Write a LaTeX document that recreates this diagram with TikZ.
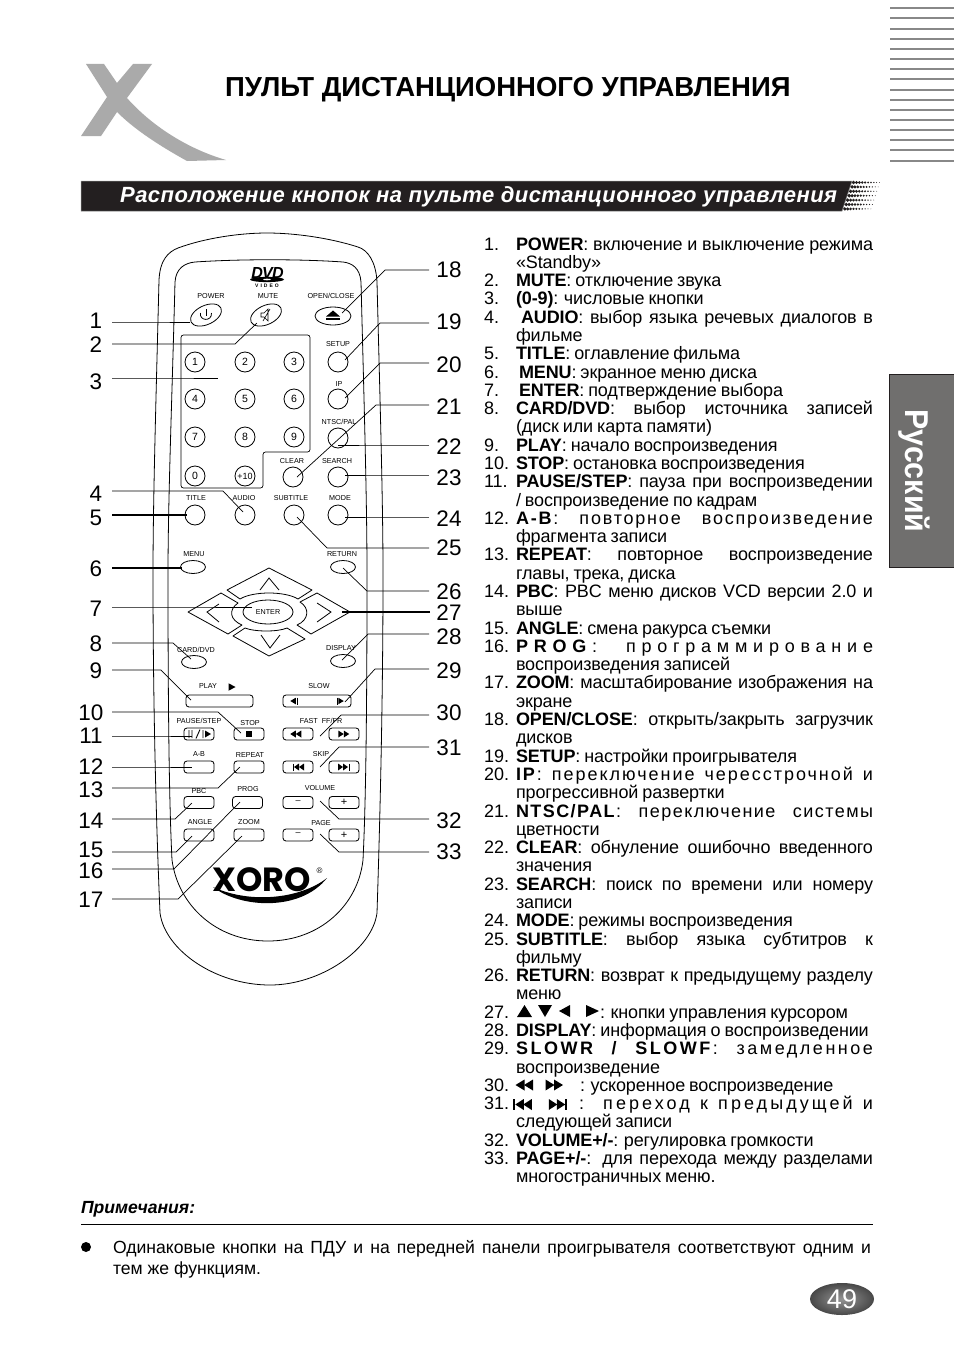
\documentclass[tikz,border=0pt]{standalone}
\usepackage{fontspec}
\usetikzlibrary{shapes.geometric,calc}
\setmainfont{Liberation Sans}
\newfontfamily\wa[LetterSpace=8]{Liberation Sans}
\newfontfamily\wb[LetterSpace=10]{Liberation Sans}
\newfontfamily\wip[LetterSpace=11]{Liberation Sans}
\newfontfamily\wsp[LetterSpace=14]{Liberation Sans}
\newfontfamily\wse[LetterSpace=17]{Liberation Sans}
\newfontfamily\wc[LetterSpace=32]{Liberation Sans}
\newfontfamily\tg[LetterSpace=-0.7]{Liberation Sans}
\newfontfamily\xorofont{Poppins}
\definecolor{logogray}{HTML}{AAAAAA}
\definecolor{stripe}{HTML}{888888}
\definecolor{barblack}{HTML}{231F20}
\definecolor{tabgray}{HTML}{706F6E}
\newcommand\fs[1]{\fontsize{#1}{#1}\selectfont}
\tikzset{
 txt/.style={anchor=base west,inner sep=0pt,outer sep=0pt,font=\fs{18}},
 numl/.style={inner sep=0pt,font=\fs{22.5}},
 lead/.style={draw=black,line width=.7pt},
 leadb/.style={draw=black,line width=1.1pt},
 rem/.style={draw=black,line width=.8pt},
 keyc/.style={draw=black,line width=.8pt,circle,minimum size=20pt,inner sep=0pt,font=\fs{10.5}},
 keye/.style={draw=black,line width=.8pt,ellipse,inner sep=0pt},
 keyr/.style={draw=black,line width=.85pt,rounded corners=3pt,inner sep=0pt,minimum width=30pt,minimum height=12pt,font=\fs{9}},
 lab/.style={inner sep=0pt,font=\fs{7.2}},
 ico/.style={fill=black},
 linew/.style={line width=.8pt,draw=black},
}
\newcommand\LY[1]{{250+18.29*#1}}
\newcommand\Nm[2]{\node[txt] (m#1) at (484,\LY{#1}) {#2.};}
\newcommand\LJ[2]{\node[txt] (t#1) at (516,\LY{#1}) {\hbox to 357pt{\tg\spaceskip=.22em plus 1fil minus .1em\relax #2}};}
\newcommand\LL[2]{\node[txt] (t#1) at (516,\LY{#1}) {\tg\spaceskip=.22em\relax #2};}
\newcommand\LX[3]{\node[txt] (t#1) at (#2,\LY{#1}) {\tg\spaceskip=.22em\relax #3};}
\newcommand\LJX[4]{\node[txt] (t#1) at (#2,\LY{#1}) {\hbox to #3pt{\tg\spaceskip=.22em plus 1fil minus .1em\relax #4}};}
\newcommand\Ldr[5][lead]{\coordinate (s#2) at (#3);\coordinate (k#2) at (#4);\coordinate (e#2) at (#5);\draw[#1] (s#2) -- (k#2) -- (e#2);}
\newcommand\tri[5]{\fill ({#1-#3*#4/2},{#2-#5/2}) -- ({#1-#3*#4/2},{#2+#5/2}) -- ({#1+#3*#4/2},#2) -- cycle;}
\begin{document}
\begin{tikzpicture}[x=1pt,y=-1pt]
\useasboundingbox (0,0) rectangle (954,1354);
\fill[white] (0,0) rectangle (954,1354);
% header logo
\fill[logogray] (86,64) -- (104,64) -- (117,83) -- (133,64) -- (152,64) -- (127,98)
  .. controls (150,124) and (185,148) .. (226,160) -- (187,161)
  .. controls (160,146) and (135,130) .. (117,112) -- (101,136) -- (81,136) -- (107,97) -- cycle;
\node[anchor=base west,inner sep=0pt,font=\fs{27.5}\bfseries] (title) at (225,96) {ПУЛЬТ ДИСТАНЦИОННОГО УПРАВЛЕНИЯ};
% stripes
\foreach \yy/\tt in {8/2.6,18/2.6,29/2,39/2,49/2,59/2,69/2,79/2.6,90/2,100/2,110/2,120/2,130/2,140/2.6,150/2.6,161/2}
  \fill[stripe] (890,\yy-\tt/2) rectangle (954,\yy+\tt/2);
% bar
\fill[barblack,draw=stripe,line width=.5pt] (81,181) -- (852,181) -- (842,211) -- (81,211) -- cycle;
\node[anchor=base west,inner sep=0pt,text=white,font=\fs{22}\bfseries\itshape] (subtitle) at (120,202) {\addfontfeature{LetterSpace=2}Расположение кнопок на пульте дистанционного управления};
\foreach \j in {0,...,6}{
 \foreach \i in {0,...,9}{
  \pgfmathsetmacro\yy{182.5+4.4*\j}
  \pgfmathsetmacro\xx{854+2.9*\i-(\yy-181)*0.33}
  \pgfmathsetmacro\rr{1.9-.16*\i-abs(\j-3)*.03}
  \fill[barblack] (\xx,\yy) circle (\rr);
 }}
% side tab
\fill[tabgray] (889,374) rectangle (954,567);
\draw[barblack,line width=.7pt] (954,374) -- (889,374) -- (889,567) -- (954,567);
\node[rotate=-90,anchor=base,inner sep=0pt,text=white,font=\fs{33}\bfseries] (tab) at (905,471) {\scalebox{.92}[1]{Русский}};
% remote outline
\draw[rem] (159,280) .. controls (160,260) and (168,252) .. (178,248) .. controls (205,238) and (240,233) .. (267,233) .. controls (295,233) and (330,238) .. (358,247) .. controls (368,250) and (376,262) .. (377,282)
  .. controls (380,400) and (383,500) .. (383,575) .. controls (383,700) and (380,820) .. (377,913)
  .. controls (372,950) and (320,985) .. (270,985) .. controls (215,985) and (165,950) .. (160,913)
  .. controls (156,820) and (153,700) .. (153,575) .. controls (153,500) and (156,400) .. (159,280) -- cycle;
\draw[rem] (175,282) .. controls (176,268) and (185,263) .. (195,262) .. controls (240,259) and (300,259) .. (343,262) .. controls (352,263) and (360,268) .. (361,282)
  .. controls (364,400) and (367,500) .. (367,575) .. controls (367,700) and (366,800) .. (363,860)
  .. controls (358,905) and (320,941) .. (268,941) .. controls (216,941) and (178,905) .. (172,860)
  .. controls (169,800) and (168,700) .. (168,575) .. controls (168,500) and (172,400) .. (175,282) -- cycle;
% DVD logo
\node[inner sep=0pt,font=\fs{16}\bfseries\itshape] (dvd) at (267.5,272.5) {\addfontfeature{LetterSpace=-4}DVD};
\fill (267,279.5) ellipse (17 and 2.6);
\fill[white] (267,279.5) ellipse (4 and .8);
\node[inner sep=0pt,font=\fs{5}\bfseries] (video) at (267,285.5) {\addfontfeature{LetterSpace=40}VIDEO};
% top keys
\node[keye,rotate=25,minimum width=33pt,minimum height=19pt] (power) at (206,315) {};
\draw[line width=.8pt] (200.5,313) .. controls (199,321) and (212,322) .. (211.5,313);
\draw[line width=.8pt] (206,309) -- (206,316);
\node[lab] (lpower) at (211,296) {POWER};
\node[keye,rotate=25,minimum width=33pt,minimum height=19pt] (mute) at (266,315) {};
\draw[line width=.6pt] (261,313) -- (264,313) -- (268,309) -- (268,321) -- (264,317) -- (261,317) -- cycle (263,321) -- (270,309);
\node[lab] (lmute) at (268,296) {MUTE};
\node[keye,minimum width=36pt,minimum height=18pt] (open) at (333,316) {};
\fill (326,316.5) -- (333,310.5) -- (340,316.5) -- cycle;
\fill (326,318) rectangle (340,320);
\node[lab] (lopen) at (331,296) {OPEN/CLOSE};
% numpad panel
\draw[line width=.7pt,rounded corners=2.5pt] (181,335) -- (310,335) -- (310,452) -- (263,452) -- (263,488) -- (181,488) -- cycle;
\node[keyc] (k1) at (195,362) {1};\node[keyc] (k2) at (245,362) {2};\node[keyc] (k3) at (294,362) {3};
\node[keyc] (k4) at (195,399) {4};\node[keyc] (k5) at (245,399) {5};\node[keyc] (k6) at (294,399) {6};
\node[keyc] (k7) at (195,437) {7};\node[keyc] (k8) at (245,437) {8};\node[keyc] (k9) at (294,437) {9};
\node[keyc] (k0) at (195,476) {0};\node[keyc,font=\fs{9}] (k10) at (245,476) {+10};
\node[keyc] (setup) at (338,362) {};\node[lab] (lsetup) at (338,344) {SETUP};
\node[keyc] (ip) at (338,399) {};\node[lab] (lip) at (339,384) {IP};
\node[keyc] (ntsc) at (338,438) {};\node[lab] (lntsc) at (339,422) {NTSC/PAL};
\node[keyc] (search) at (338,477) {};\node[lab] (lsearch) at (337,461) {SEARCH};
\node[keyc] (clear) at (293,477) {};\node[lab] (lclear) at (292,461) {CLEAR};
\node[keyc] (titlek) at (195,515) {};\node[lab] (ltitle) at (196,498) {TITLE};
\node[keyc] (audio) at (245,515) {};\node[lab] (laudio) at (244,498) {AUDIO};
\node[keyc] (subt) at (294,515) {};\node[lab] (lsubt) at (291,498) {SUBTITLE};
\node[keyc] (mode) at (338,515) {};\node[lab] (lmode) at (340,498) {MODE};
\node[keye,minimum width=25pt,minimum height=13pt] (menu) at (193,567) {};\node[lab] (lmenu) at (194,554) {MENU};
\node[keye,minimum width=25pt,minimum height=13pt] (return) at (343,567) {};\node[lab] (lreturn) at (342,554) {RETURN};
% navigation pad
\draw[rem,line join=round] (269,568) -- (312,590) -- (298,599) .. controls (285,591) and (253,591) .. (240,599) -- (227,590) -- cycle;
\draw[linew] (260,590) -- (269,578) -- (279,590);
\draw[rem,line join=round] (221,593) -- (238,603) .. controls (228,610) and (230,620) .. (242,625) -- (228,634) -- (188,612) -- cycle;
\draw[linew] (219,604) -- (207,612) -- (219,622);
\draw[rem,line join=round] (317,593) -- (350,612) -- (311,634) -- (297,625) .. controls (309,620) and (310,608) .. (300,602) -- cycle;
\draw[linew] (317,603) -- (331,612) -- (317,622);
\draw[rem,line join=round] (233,636) -- (245,628) .. controls (255,632) and (278,632) .. (287,628) -- (305,639) -- (269,656) -- cycle;
\draw[linew] (261,635) -- (270,648) -- (280,635);
\node[keye,minimum width=50pt,minimum height=24pt,font=\fs{7.2}] (enter) at (268,612) {ENTER};
\node[keye,minimum width=25pt,minimum height=13pt] (card) at (194,662) {};\node[lab] (lcard) at (196,650) {CARD/DVD};
\node[keye,minimum width=25pt,minimum height=13pt] (display) at (343,661) {};\node[lab] (ldisplay) at (341,648) {DISPLAY};
% wide keys
\node[keyr,minimum width=67pt] (play) at (219.5,701) {};\node[lab] (lplay) at (208,686) {PLAY};
\tri{232}{687}{1}{7}{7.5}
\node[keyr,minimum width=68pt] (slow) at (317,701) {};\node[lab] (lslow) at (319,686) {SLOW};
\tri{293}{701}{-1}{5.5}{6.5}\draw[line width=.8pt] (297,697.5) -- (297,704.5);
\tri{341}{701}{1}{5.5}{6.5}\draw[line width=.8pt] (337,697.5) -- (337,704.5);
% row 1
\node[keyr] (pause) at (199,734) {};\node[lab] (lpause) at (199,721) {PAUSE/STEP};
\draw[line width=.9pt] (189,730) -- (189,738) (192,730) -- (192,738) (196,738.5) -- (200,729.5) (203,730) -- (203,738);
\tri{208}{734}{1}{6}{7}
\node[keyr] (stop) at (249,734) {};\node[lab] (lstop) at (250,723) {STOP};\fill (246,731) rectangle (252,737);
\node[keyr] (rew) at (298,734) {};\node[keyr] (ff) at (344,734) {};\node[lab] (lfast) at (321,721) {FAST\ \ FF/FR};
\tri{293}{734}{-1}{5.5}{7}\tri{298.5}{734}{-1}{5.5}{7}
\tri{341}{734}{1}{5.5}{7}\tri{346.5}{734}{1}{5.5}{7}
% row 2
\node[keyr] (ab) at (199,767) {};\node[lab] (lab1) at (199,754) {A-B};
\node[keyr] (repeat) at (249,767) {};\node[lab] (lrepeat) at (250,755) {REPEAT};
\node[keyr] (prev) at (298,767) {};\node[keyr] (next) at (344,767) {};\node[lab] (lskip) at (321,754) {SKIP};
\draw[line width=1pt] (293,763.5) -- (293,770.5) (349,763.5) -- (349,770.5);
\tri{296.5}{767}{-1}{5}{7}\tri{301.5}{767}{-1}{5}{7}
\tri{340.5}{767}{1}{5}{7}\tri{345.5}{767}{1}{5}{7}
% row 3
\node[keyr] (pbc) at (199,802.5) {};\node[lab] (lpbc) at (199,791) {PBC};
\node[keyr] (prog) at (247.5,802.5) {};\node[lab] (lprog) at (248,789) {PROG};
\node[keyr] (vminus) at (298,802.5) {\raisebox{1pt}{–}};\node[keyr,font=\fs{11}] (vplus) at (344,802.5) {+};\node[lab] (lvol) at (320,788) {VOLUME};
% row 4
\node[keyr] (anglek) at (199,835) {};\node[lab] (langle) at (200,822) {ANGLE};
\node[keyr] (zoomk) at (249,835) {};\node[lab] (lzoom) at (249,822) {ZOOM};
\node[keyr] (pminus) at (298,835) {\raisebox{1pt}{–}};\node[keyr,font=\fs{11}] (pplus) at (344,835) {+};\node[lab] (lpage) at (321,823) {PAGE};
% XORO
\node[anchor=base west,inner sep=0pt,font=\fs{33.5}\xorofont\bfseries] (xoro) at (212,891) {XORO};
\fill (213,887) .. controls (240,908) and (300,912) .. (327,878) .. controls (300,899) and (250,904) .. (213,887) -- cycle;
\node[inner sep=0pt,font=\fs{8}] (reg) at (319.5,871) {®};
% numbers
\foreach \nn/\xx/\yy in {1/96/321,2/96/345,3/96/382,4/96/494,5/96/518,6/96/569,7/96/609,8/96/644,9/96/671,10/91/713,11/91/736,12/91/767,13/91/790,14/91/821,15/91/850,16/91/871,17/91/900,18/449/270,19/449/322,20/449/365,21/449/407,22/449/447,23/449/478,24/449/519,25/449/548,26/449/592,27/449/613,28/449/637,29/449/671,30/449/713,31/449/748,32/449/821,33/449/852}
  \node[numl] (n\nn) at (\xx,\yy) {\nn};
% leaders left
\Ldr{1}{112,322}{150,322}{190,322}
\Ldr{2}{112,344}{235,344}{257,323}
\Ldr{3}{112,378}{170,378}{218,378}
\Ldr{4}{112,491}{223,491}{243,512}
\Ldr[leadb]{5}{112,515}{150,515}{187,515}
\Ldr[leadb]{6}{112,568}{150,568}{182,568}
\Ldr{7}{112,607}{180,607}{252,607}
\Ldr{8}{112,643}{173,643}{191,659}
\Ldr{9}{112,670}{161,670}{191,700}
\Ldr{10}{112,712}{218,712}{241,733}
\Ldr{11}{112,736}{150,736}{192,736}
\Ldr{12}{112,767}{150,767}{192,767}
\Ldr{13}{112,788}{218,788}{240,767}
\Ldr{14}{112,819}{175,819}{192,803}
\Ldr{15}{112,852}{176,852}{192,836}
\Ldr{16}{112,869}{174,869}{240,802}
\Ldr{17}{112,899}{178,899}{242,836}
% leaders right
\Ldr{18}{429,270}{385,270}{342,313}
\Ldr{19}{429,323}{380,323}{345,360}
\Ldr{20}{429,363}{380,363}{345,398}
\Ldr{21}{429,405}{376,405}{297,477}
\Ldr{22}{429,445}{380,445}{338,445}
\Ldr{23}{429,475}{385,475}{345,475}
\Ldr{24}{429,517}{385,517}{345,517}
\Ldr{25}{429,548}{327,548}{297,517}
\Ldr{26}{429,591}{367,591}{343,568}
\Ldr[leadb]{27}{430,612}{390,612}{342,612}
\Ldr{28}{429,634}{368,634}{342,660}
\Ldr{29}{429,669}{375,669}{345,702}
\Ldr{30}{429,715}{341,715}{320,736}
\Ldr{31}{429,747}{339,747}{320,767}
\Ldr{32}{429,819}{339,819}{320,801}
\Ldr{33}{429,852}{339,852}{320,834}
% text
\Nm{0}{1}\LJ{0}{\textbf{POWER}: включение и выключение режима}
\LL{1}{«Standby»}
\Nm{2}{2}\LL{2}{\textbf{MUTE}: отключение звука}
\Nm{3}{3}\LL{3}{\textbf{(0-9)}: числовые кнопки}
\Nm{4}{4}\LJX{4}{521}{352}{\textbf{AUDIO}: выбор языка речевых диалогов в}
\LL{5}{фильме}
\Nm{6}{5}\LL{6}{\textbf{TITLE}: оглавление фильма}
\Nm{7}{6}\LX{7}{519}{\textbf{MENU}: экранное меню диска}
\Nm{8}{7}\LX{8}{519}{\textbf{ENTER}: подтверждение выбора}
\Nm{9}{8}\LJ{9}{\textbf{CARD/DVD}: выбор источника записей}
\LL{10}{(диск или карта памяти)}
\Nm{11}{9}\LL{11}{\textbf{PLAY}: начало воспроизведения}
\node[txt] (m12) at (484,\LY{12}) {10.};\LL{12}{\textbf{STOP}: остановка воспроизведения}
\node[txt] (m13) at (484,\LY{13}) {11.};\LJ{13}{\textbf{PAUSE/STEP}: пауза при воспроизведении}
\LL{14}{/ воспроизведение по кадрам}
\node[txt] (m15) at (484,\LY{15}) {12.};\LJ{15}{\wb\textbf{A-B}: повторное воспроизведение}
\LL{16}{фрагмента записи}
\node[txt] (m17) at (484,\LY{17}) {13.};\LJ{17}{\textbf{REPEAT}: повторное воспроизведение}
\LL{18}{главы, трека, диска}
\node[txt] (m19) at (484,\LY{19}) {14.};\LJ{19}{\textbf{PBC}: PBC меню дисков VCD версии 2.0 и}
\LL{20}{выше}
\node[txt] (m21) at (484,\LY{21}) {15.};\LL{21}{\textbf{ANGLE}: смена ракурса съемки}
\node[txt] (m22) at (484,\LY{22}) {16.};\LJ{22}{\wc\textbf{PROG}: программирование}
\LL{23}{воспроизведения записей}
\node[txt] (m24) at (484,\LY{24}) {17.};\LJ{24}{\textbf{ZOOM}: масштабирование изображения на}
\LL{25}{экране}
\node[txt] (m26) at (484,\LY{26}) {18.};\LJ{26}{\textbf{OPEN/CLOSE}: открыть/закрыть загрузчик}
\LL{27}{дисков}
\node[txt] (m28) at (484,\LY{28}) {19.};\LL{28}{\textbf{SETUP}: настройки проигрывателя}
\node[txt] (m29) at (484,\LY{29}) {20.};\LJ{29}{\wip\textbf{IP}: переключение чересстрочной и}
\LL{30}{прогрессивной развертки}
\node[txt] (m31) at (484,\LY{31}) {21.};\LJ{31}{\wa\textbf{NTSC/PAL}: переключение системы}
\LL{32}{цветности}
\node[txt] (m33) at (484,\LY{33}) {22.};\LJ{33}{\textbf{CLEAR}: обнуление ошибочно введенного}
\LL{34}{значения}
\node[txt] (m35) at (484,\LY{35}) {23.};\LJ{35}{\textbf{SEARCH}: поиск по времени или номеру}
\LL{36}{записи}
\node[txt] (m37) at (484,\LY{37}) {24.};\LL{37}{\textbf{MODE}: режимы воспроизведения}
\node[txt] (m38) at (484,\LY{38}) {25.};\LJ{38}{\textbf{SUBTITLE}: выбор языка субтитров к}
\LL{39}{фильму}
\node[txt] (m40) at (484,\LY{40}) {26.};\LJ{40}{\textbf{RETURN}: возврат к предыдущему разделу}
\LL{41}{меню}
\node[txt] (m42) at (484,\LY{42}) {27.};
\fill (517,1017) -- (524.5,1005) -- (532,1017) -- cycle;
\fill (538,1005) -- (552,1005) -- (545,1017) -- cycle;
\tri{564.5}{1011}{-1}{11}{12}\tri{592.5}{1011}{1}{13}{12}
\LX{42}{600}{: кнопки управления курсором}
\node[txt] (m43) at (484,\LY{43}) {28.};\LL{43}{\textbf{DISPLAY}: информация о воспроизведении}
\node[txt] (m44) at (484,\LY{44}) {29.};\LJ{44}{\wsp\textbf{SLOWR / SLOWF}: замедленное}
\LL{45}{воспроизведение}
\node[txt] (m46) at (484,\LY{46}) {30.};
\tri{520}{1085}{-1}{9}{11}\tri{528.5}{1085}{-1}{9}{11}
\tri{550}{1085}{1}{9}{11}\tri{558.5}{1085}{1}{9}{11}
\LX{46}{580}{: ускоренное воспроизведение}
\node[txt] (m47) at (484,\LY{47}) {31.};
\fill (513,1099) rectangle (515,1110);
\tri{519.5}{1104.5}{-1}{8.5}{11}\tri{527.5}{1104.5}{-1}{8.5}{11}
\tri{553}{1104.5}{1}{8.5}{11}\tri{561}{1104.5}{1}{8.5}{11}
\fill (565,1099) rectangle (567,1110);
\LJX{47}{579}{294}{\wse: переход к предыдущей и}
\LL{48}{следующей записи}
\node[txt] (m49) at (484,\LY{49}) {32.};\LL{49}{\textbf{VOLUME+/-}: регулировка громкости}
\node[txt] (m50) at (484,\LY{50}) {33.};\LJ{50}{\textbf{PAGE+/-}: для перехода между разделами}
\LL{51}{многостраничных меню.}
% notes
\node[txt,font=\fs{17.6}\bfseries\itshape] (note) at (81,1213) {Примечания:};
\draw[line width=.7pt] (81,1224.5) -- (873,1224.5);
\fill (86,1247) circle (5);
\node[txt,font=\fs{17.6}] (n1a) at (113,1253) {\hbox to 758pt{\spaceskip=.25em plus 1fil minus .1em\relax Одинаковые кнопки на ПДУ и на передней панели проигрывателя соответствуют одним и}};
\node[txt,font=\fs{17.6}] (n1b) at (113,1274) {тем же функциям.};
% page badge
\shade[inner color=stripe!90!white,outer color=black!72] (842,1299) ellipse (32 and 16);
\node[inner sep=0pt,text=white,font=\fs{27}] (page) at (842,1299) {49};
\end{tikzpicture}
\end{document}
